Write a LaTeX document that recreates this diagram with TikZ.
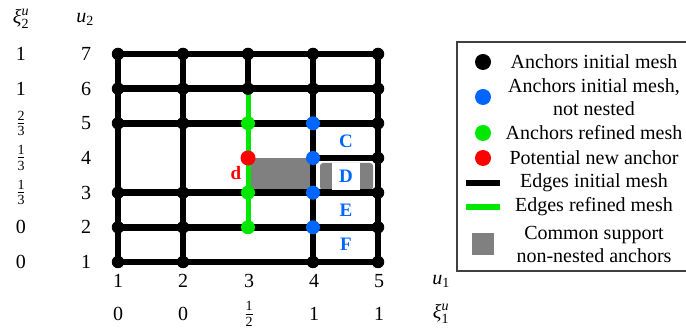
\documentclass[tikz,border=0pt]{standalone}
\usepackage{amsmath}
\usepackage{fontspec}
\setmainfont{Liberation Serif}
\definecolor{anchorblue}{RGB}{0,102,255}
\definecolor{refgreen}{RGB}{0,232,0}
\definecolor{newred}{RGB}{255,0,0}
\definecolor{supportgray}{RGB}{128,128,128}
\newcommand{\xiu}[1]{$\text{\itshape ξ}^{\text{\itshape u}}_{\text{#1}}$}
\newcommand{\uvar}[1]{$\text{\itshape u}_{\text{#1}}$}
\newcommand{\fr}[2]{$\frac{\text{#1}}{\text{#2}}$}
\begin{document}
\begin{tikzpicture}[x=1pt,y=-1pt,
  every node/.style={font=\fontsize{20}{23}\selectfont},
  edge/.style={line width=6.5pt,black},
  redge/.style={line width=5pt,refgreen},
  anc/.style={circle,fill=black,inner sep=0pt,minimum size=12.5pt},
  ancblue/.style={circle,fill=anchorblue,inner sep=0pt,minimum size=14pt},
  ancgreen/.style={circle,fill=refgreen,inner sep=0pt,minimum size=14pt},
  ancred/.style={circle,fill=newred,inner sep=0pt,minimum size=15pt},
  cell/.style={text=anchorblue,font=\fontsize{19}{22}\selectfont\bfseries,inner sep=0pt},
  legtext/.style={align=center,inner sep=0pt},
  legdot/.style={circle,inner sep=0pt,minimum size=16pt},
]
\useasboundingbox (0,0) rectangle (686,328);
\clip (0,0) rectangle (686,328);

% grid points: column c at knot u1=c, row r at knot u2=r
\foreach \c/\x in {1/118,2/183,3/248,4/313,5/378}
  \foreach \r/\y in {1/262,2/227.3,3/192.7,4/158,5/123.3,6/88.7,7/54}
    \coordinate (g\c\r) at (\x,\y);

% common support of the non-nested anchors
\fill[supportgray] (g34) rectangle (g43);
\fill[supportgray, rounded corners=3pt] (320,163) rectangle (373,190);

% edges of the initial mesh
\foreach \r in {1,2,3,5,6,7} \draw[edge] (g1\r) -- (g5\r);
\draw[edge] (g44) -- (g54);
\foreach \c in {1,2,4,5} \draw[edge] (g\c1) -- (g\c7);
\draw[edge] (g36) -- (g37);
% edge of the refined mesh
\draw[redge] (g32) -- (g36);

% anchors of the initial mesh
\foreach \p in {11,12,13,15,16,17, 21,22,23,25,26,27, 36,37, 41,46,47, 51,52,53,54,55,56,57}
  \node[anc] (a\p) at (g\p) {};
% non-nested anchors
\foreach \p in {42,43,44,45} \node[ancblue] (b\p) at (g\p) {};
% anchors of the refined mesh
\foreach \p in {32,33,35} \node[ancgreen] (n\p) at (g\p) {};
% potential new anchor
\node[ancred] (d34) at (g34) {};
\node[text=newred,font=\fontsize{19}{22}\selectfont\bfseries] (dlab) at (236,173) {d};

% element labels
\node[cell] (C) at (346,141) {C};
\node[cell,fill=white,minimum width=28pt,minimum height=27pt] (D) at (346,176.5) {D};
\node[cell] (E) at (346,210) {E};
\node[cell] (F) at (346,244) {F};

% knot vectors along u1
\foreach \c/\x in {1/118,2/183,3/249,4/314,5/379}
  \node (k1\c) at (\x,281) {\c};
\node (u1) at (441,281) {\uvar{1}};
\node (x11) at (118,314) {0};
\node (x12) at (183,314) {0};
\node (x13) at (249,314) {\fr{1}{2}};
\node (x14) at (314,314) {1};
\node (x15) at (379,314) {1};
\node (xi1) at (441,314) {\xiu{1}};

% knot vectors along u2
\node (u2) at (85,19) {\uvar{2}};
\node (xi2) at (21,19) {\xiu{2}};
\foreach \r/\y in {1/262,2/227.3,3/192.7,4/158,5/123.3,6/88.7,7/54}
  \node (k2\r) at (86,\y) {\r};
\node (y1) at (21,262) {0};
\node (y2) at (21,227.3) {0};
\node (y3) at (21,192.7) {\fr{1}{3}};
\node (y4) at (21,158) {\fr{1}{3}};
\node (y5) at (21,123.3) {\fr{2}{3}};
\node (y6) at (21,88.7) {1};
\node (y7) at (21,54) {1};

% legend
\draw[line width=1.2pt,black!75] (457,42) rectangle (700,271);
\node[legdot,fill=black] (l1) at (483,62) {};
\node[legtext] (t1) at (594,62) {Anchors initial mesh};
\node[legdot,fill=anchorblue] (l2) at (483,97) {};
\node[legtext] (t2) at (594,97) {Anchors initial mesh,\\not nested};
\node[legdot,fill=refgreen] (l3) at (483,133) {};
\node[legtext] (t3) at (594,133) {Anchors refined mesh};
\node[legdot,fill=newred] (l4) at (483,158) {};
\node[legtext] (t4) at (594,158) {Potential new anchor};
\coordinate (l5a) at (466,183); \coordinate (l5b) at (500,183);
\draw[edge] (l5a) -- (l5b);
\node[legtext] (t5) at (594,183) {Edges initial mesh};
\coordinate (l6a) at (466,207); \coordinate (l6b) at (500,207);
\draw[line width=6.5pt,refgreen] (l6a) -- (l6b);
\node[legtext] (t6) at (594,207) {Edges refined mesh};
\node[fill=supportgray,minimum size=22pt,inner sep=0pt] (l7) at (482.5,244) {};
\node[legtext] (t7) at (594,244) {Common support\\non-nested anchors};
\end{tikzpicture}
\end{document}
